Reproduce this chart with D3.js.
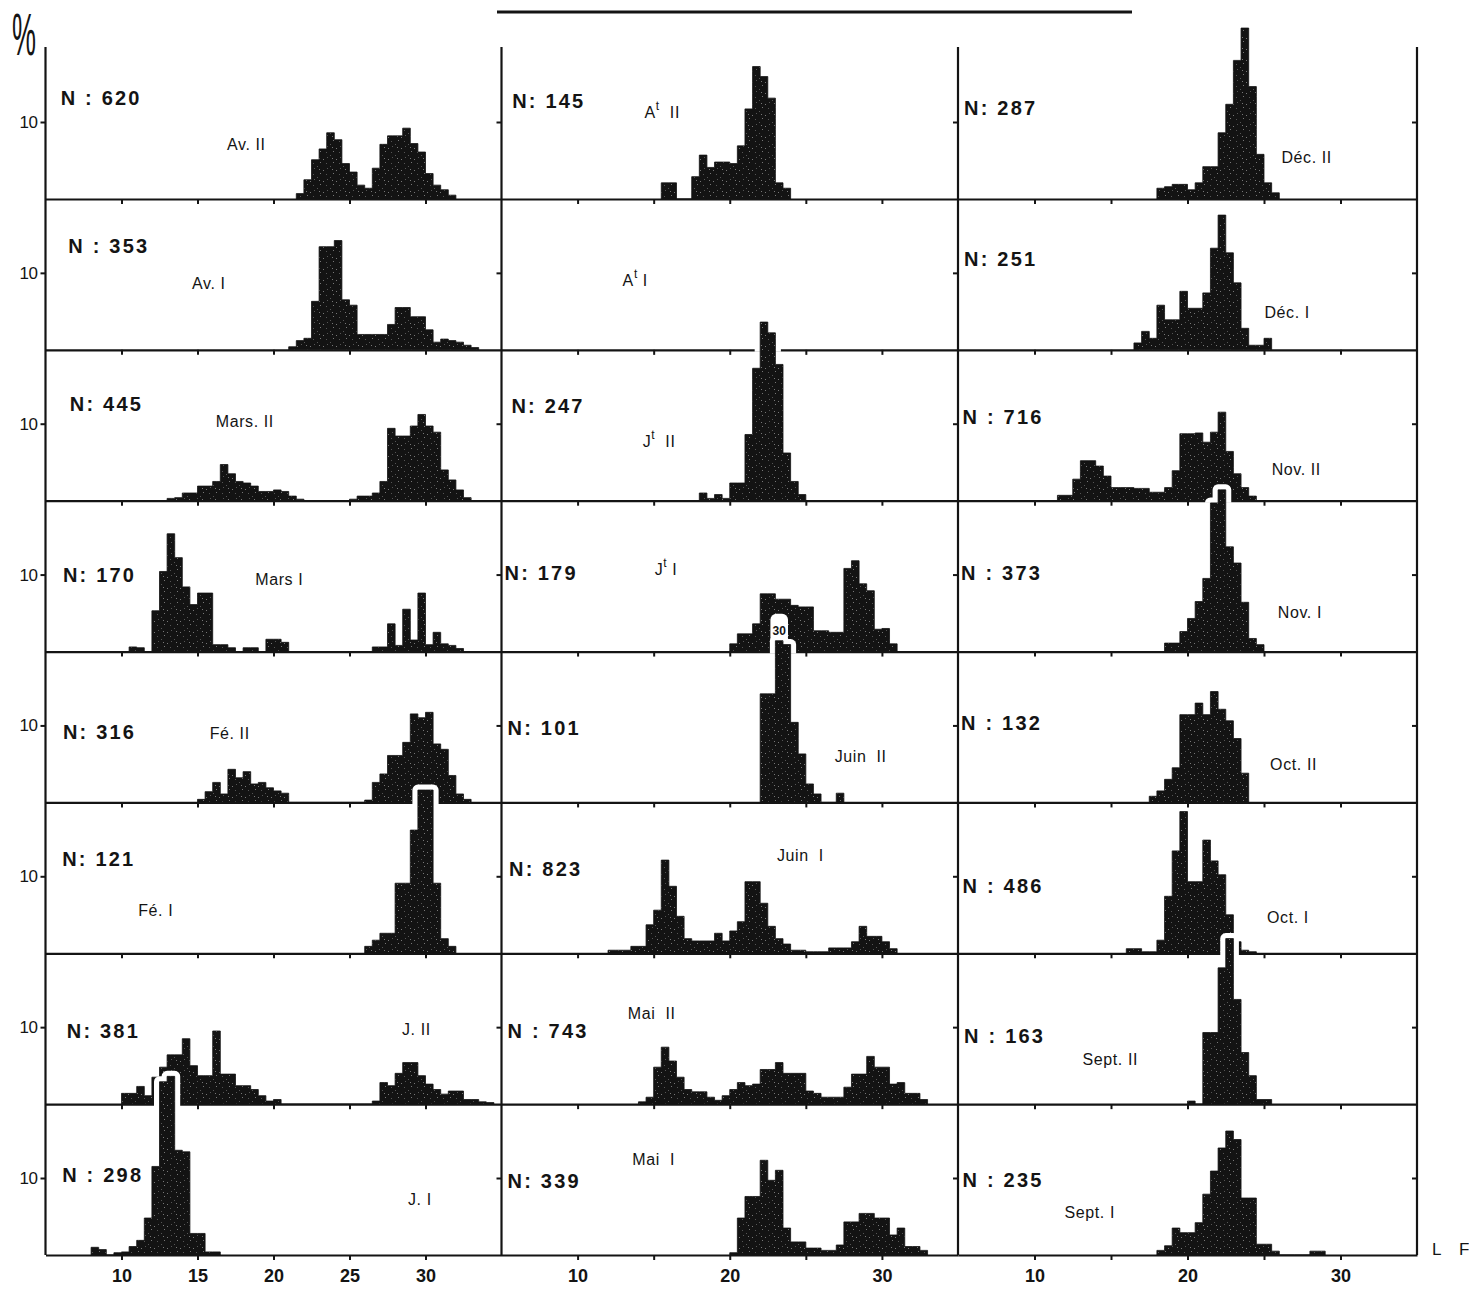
<!DOCTYPE html>
<html><head><meta charset="utf-8">
<script src="https://cdn.jsdelivr.net/npm/d3@7"></script>
<style>
html,body{margin:0;padding:0;background:#fff;}
svg{display:block;}
text{font-family:"Liberation Sans", Arial, Helvetica, sans-serif; fill:#141414;}
</style></head><body>
<svg id="c" width="1469" height="1289"></svg>
<script>
// ================= DATA =================
// length classes of 0.5 (L F), percentages per class
const binWidth = 0.5;
const lengthTicks = [10, 15, 20, 25, 30];
const labelledTicks = [[10, 15, 20, 25, 30], [10, 20, 30], [10, 20, 30]];
const yTickValues = [10];

// ---- column 1 : Janvier - Avril ----
const avII   = {start: 21.5, pct: [0.7, 2.5, 5.1, 6.5, 8.6, 7.7, 4.6, 3.5, 1.8, 1.4, 4.0, 7.1, 8.2, 8.2, 9.2, 7.2, 6.1, 3.3, 1.8, 1.2, 0.5]};
const avI    = {start: 21, pct: [0.4, 1.2, 1.5, 6.3, 13.4, 13.4, 14.2, 6.5, 5.8, 2.0, 2.0, 2.0, 2.0, 3.3, 5.5, 5.5, 4.3, 4.3, 2.6, 1.0, 1.4, 1.2, 1.0, 0.6, 0.3]};
const marsII = {start: 13, pct: [0.3, 0.4, 1.0, 1.0, 1.9, 1.9, 2.5, 4.7, 3.5, 2.5, 2.3, 1.9, 1.2, 1.2, 1.4, 1.2, 0.6, 0.2, 0, 0, 0, 0, 0, 0, 0.2, 0.6, 0.6, 1.0, 2.5, 9.4, 8.4, 8.4, 9.7, 11.2, 9.7, 8.9, 4.0, 2.7, 1.4, 0.4]};
const marsI  = {start: 10.5, pct: [0.6, 0.5, 0, 5.3, 10.4, 15.3, 12.2, 8.4, 6.1, 7.6, 7.6, 0.9, 0.9, 0.5, 0, 0.5, 0.5, 0, 1.6, 1.6, 1.2, 0, 0, 0, 0, 0, 0, 0, 0, 0, 0, 0, 0.6, 0.6, 3.6, 0.8, 5.5, 1.5, 7.6, 0.9, 2.5, 1.0, 0.8, 0.4]};
const feII   = {start: 15, pct: [0.4, 1.4, 2.6, 1.1, 4.3, 3.2, 4.0, 2.4, 2.6, 1.9, 1.5, 1.2, 0, 0, 0, 0, 0, 0, 0, 0, 0, 0, 0.3, 2.6, 3.7, 6.1, 6.1, 7.8, 11.5, 11.0, 11.7, 7.6, 6.9, 3.5, 1.1, 0.4]};
const feI    = {start: 26, pct: [0.9, 1.7, 2.6, 2.6, 9.1, 9.1, 16.0, 21.2, 21.2, 9.1, 1.9, 0.9]};
const jII    = {start: 10, pct: [1.4, 1.4, 2.3, 1.1, 3.5, 4.8, 6.4, 6.4, 8.5, 5.0, 3.7, 3.7, 9.5, 3.9, 3.9, 2.4, 2.4, 1.9, 1.1, 0.4, 0.6, 0, 0, 0, 0, 0, 0, 0, 0, 0, 0, 0, 0, 0.4, 2.8, 2.4, 4.0, 5.4, 5.4, 3.7, 2.6, 1.9, 1.3, 1.7, 1.7, 0.6, 0.6, 0.3, 0.2]};
const jI     = {start: 8, pct: [1.0, 0.7, 0, 0.3, 0.4, 1.1, 1.9, 4.8, 11.5, 22.5, 23.2, 13.6, 13.4, 2.8, 2.8, 0.4, 0.4]};

// ---- column 2 : Mai - Août ----
const atII   = {start: 15.5, pct: [2.1, 2.1, 0, 0, 2.9, 5.7, 4.1, 4.8, 4.8, 4.6, 6.9, 11.7, 17.2, 15.9, 13.1, 2.1, 1.4]};
const atI    = null; // no sample
const jtII   = {start: 18, pct: [1.0, 0.3, 0.8, 0.3, 2.3, 2.3, 8.6, 17.2, 23.2, 21.8, 17.7, 6.2, 2.5, 0.8]};
const jtI    = {start: 20, pct: [1.0, 2.3, 2.3, 3.6, 7.5, 7.5, 6.8, 6.8, 6.0, 5.8, 5.8, 2.7, 2.7, 2.5, 2.5, 10.8, 11.8, 8.8, 7.9, 2.9, 3.0, 1.0]};
const juinII = {start: 22, pct: [14.1, 14.1, 30, 20.5, 10.4, 6.3, 2.4, 1.1, 0, 0, 1.2]};
const juinI  = {start: 12, pct: [0.4, 0.4, 0.4, 0.9, 0.9, 3.7, 5.6, 12.1, 8.7, 4.8, 1.9, 1.6, 1.6, 1.6, 2.6, 1.6, 2.9, 4.1, 9.3, 9.3, 6.5, 3.5, 1.9, 1.2, 0.4, 0.4, 0.2, 0.2, 0.2, 0.7, 0.7, 0.7, 1.5, 3.5, 2.2, 2.2, 1.5, 0.6]};
const maiII  = {start: 14, pct: [0.3, 0.9, 4.8, 7.4, 5.6, 3.5, 1.9, 1.6, 1.6, 0.9, 0.5, 1.1, 1.9, 2.8, 2.4, 2.6, 4.5, 4.5, 5.4, 4.0, 4.0, 4.0, 1.7, 1.4, 0.9, 0.9, 0.9, 2.2, 3.9, 3.9, 6.2, 4.8, 4.8, 2.6, 2.8, 1.4, 1.4, 0.6]};
const maiI   = {start: 20, pct: [0.3, 4.8, 7.6, 7.6, 12.3, 9.7, 11.0, 3.5, 1.7, 1.7, 0.9, 0.9, 0.6, 0.6, 1.3, 4.3, 4.3, 5.4, 5.4, 4.8, 4.8, 2.6, 3.5, 1.1, 1.1, 0.6]};

// ---- column 3 : Septembre - Décembre ----
const decII  = {start: 18, pct: [1.4, 1.6, 1.9, 1.9, 1.2, 2.1, 4.2, 4.2, 8.6, 12.3, 18.0, 22.2, 14.6, 5.8, 2.1, 0.8]};
const decI   = {start: 16.5, pct: [0.9, 2.4, 1.5, 5.8, 3.9, 3.9, 7.6, 5.4, 5.4, 7.4, 13.2, 17.5, 12.6, 8.7, 2.8, 0.6, 0.6, 1.5]};
const novII  = {start: 11.5, pct: [0.7, 0.7, 2.8, 5.2, 5.2, 4.5, 3.2, 1.7, 1.7, 1.7, 1.6, 1.6, 1.1, 1.1, 1.7, 3.9, 8.7, 8.7, 8.8, 7.6, 8.9, 11.5, 6.4, 3.5, 1.7, 0.6]};
const novI   = {start: 18.5, pct: [1.1, 1.1, 2.6, 4.3, 6.5, 9.5, 19.3, 21.0, 13.6, 11.5, 6.4, 1.7, 0.9]};
const octII  = {start: 17.5, pct: [0.8, 1.5, 3.0, 4.5, 11.4, 11.4, 12.9, 11.4, 14.4, 12.1, 10.6, 8.3, 3.8]};
const octI   = {start: 16, pct: [0.6, 0.6, 0.2, 0.2, 1.7, 7.4, 13.3, 18.4, 9.3, 9.3, 14.7, 12.0, 10.2, 5.0, 1.5, 0.4, 0.2]};
const septII = {start: 20, pct: [0.4, 0, 9.3, 9.3, 17.7, 21.5, 13.6, 6.7, 3.7, 0.6, 0.6]};
const septI  = {start: 18, pct: [0.6, 1.2, 3.5, 2.9, 2.9, 4.2, 7.9, 10.9, 13.9, 16.1, 15.0, 7.4, 7.4, 1.4, 1.4, 0.5, 0, 0, 0, 0, 0.5, 0.5]};

const col1Data = [avII, avI, marsII, marsI, feII, feI, jII, jI];
const col2Data = [atII, atI, jtII, jtI, juinII, juinI, maiII, maiI];
const col3Data = [decII, decI, novII, novI, octII, octI, septII, septI];

const col1Labels = ["Av. II", "Av. I", "Mars. II", "Mars I", "Fé. II", "Fé. I", "J. II", "J. I"];
const col2Labels = ["A^t  II", "A^t I", "J^t  II", "J^t I", "Juin  II", "Juin  I", "Mai  II", "Mai  I"];
const col3Labels = ["Déc. II", "Déc. I", "Nov. II", "Nov. I", "Oct. II", "Oct. I", "Sept. II", "Sept. I"];

const col1N = [620, 353, 445, 170, 316, 121, 381, 298];
const col2N = [145, null, 247, 179, 101, 823, 743, 339];
const col3N = [287, 251, 716, 373, 132, 486, 163, 235];

// bars taller than the panel are cut and annotated with their value
const displayCap = {"Juin  II": 21};

// ================= LAYOUT (label anchors in data units: [length, %]) =================
const col1Sep = [" : ", " : ", ": ", ": ", ": ", ": ", ": ", " : "];
const col2Sep = [": ", null, ": ", ": ", ": ", ": ", " : ", ": "];
const col3Sep = [": ", ": ", " : ", " : ", " : ", " : ", " : ", " : "];
const col1NPos = [[6.0,12.2],[6.5,12.6],[6.6,11.6],[6.15,9.0],[6.15,8.2],[6.1,11.3],[6.4,8.6],[6.1,9.5]];
const col2NPos = [[5.7,11.8],null,[5.65,11.4],[5.2,9.35],[5.4,8.8],[5.5,10.1],[5.4,8.6],[5.4,8.7]];
const col3NPos = [[5.4,10.9],[5.4,10.9],[5.3,9.9],[5.2,9.35],[5.2,9.35],[5.3,7.8],[5.4,8.0],[5.3,8.8]];
const col1LabelPos = [[16.94,6.4],[14.64,7.9],[16.2,9.6],[18.8,8.7],[15.8,8.2],[11.1,4.8],[28.45,9.0],[28.85,6.5]];
const col2LabelPos = [[14.4,10.5],[12.96,8.3],[14.28,7.0],[15.07,10.0],[26.9,5.2],[23.1,12.0],[13.3,11.0],[13.6,11.7]];
const col3LabelPos = [[26.14,4.7],[25.03,4.2],[25.5,3.4],[25.9,4.4],[25.4,4.2],[25.2,3.9],[13.14,5.1],[11.96,4.8]];

const columns = [
  {data: col1Data, labels: col1Labels, n: col1N, sep: col1Sep, nPos: col1NPos, lPos: col1LabelPos},
  {data: col2Data, labels: col2Labels, n: col2N, sep: col2Sep, nPos: col2NPos, lPos: col2LabelPos},
  {data: col3Data, labels: col3Labels, n: col3N, sep: col3Sep, nPos: col3NPos, lPos: col3LabelPos}
];

// ================= DRAW =================
const W = 1469, H = 1289;
const svg = d3.select("#c");
const ink = "#141414";
const colRanges = [[45.5, 501.5], [501.5, 958], [958, 1417]];
const xs = colRanges.map(r => d3.scaleLinear().domain([5, 35]).range(r));
const rowBase = d3.scaleLinear().domain([0, 7]).range([199, 1255]);
const frameTop = 47;
const yOf = r => d3.scaleLinear().domain([0, 10]).range([rowBase(r), rowBase(r) - 77]);

const defs = svg.append("defs");
const pat = defs.append("pattern").attr("id", "speck").attr("patternUnits", "userSpaceOnUse")
  .attr("width", 13).attr("height", 11);
pat.append("rect").attr("width", 13).attr("height", 11).attr("fill", "#131313");
[[2,3],[8,8],[5,1],[11,5],[1,9],[7,4]].forEach(([cx, cy], i) =>
  pat.append("rect").attr("x", cx).attr("y", cy).attr("width", 1).attr("height", 1)
     .attr("fill", i % 2 ? "#777" : "#555"));
for (let r = 1; r < 8; r++) {
  defs.append("clipPath").attr("id", "above" + r)
    .append("rect").attr("x", 0).attr("y", 0).attr("width", W).attr("height", rowBase(r - 1) + 2);
}

// title underline (text above is cut off in the source)
svg.append("line").attr("x1", 497).attr("x2", 1132).attr("y1", 12).attr("y2", 12)
  .attr("stroke", ink).attr("stroke-width", 3);

const layerHist = svg.append("g");

function areaFor(c, r, d, cap) {
  const x = xs[c], y = yOf(r);
  const pts = d.pct.map((v, i) => ({L: d.start + i * binWidth, v: Math.min(v, cap)}));
  pts.push({L: d.start + d.pct.length * binWidth, v: 0});
  return d3.area().curve(d3.curveStepAfter).x(p => x(p.L)).y0(y(0)).y1(p => y(p.v))(pts);
}

for (let r = 0; r < 8; r++) {
  // white halo where bars rise into the panel above
  columns.forEach((col, c) => {
    const d = col.data[r]; if (!d || r === 0) return;
    const cap = displayCap[col.labels[r]] ?? Infinity;
    const g = layerHist.append("g").attr("clip-path", `url(#above${r})`);
    g.append("path").attr("d", areaFor(c, r, d, cap))
      .attr("fill", "#fff").attr("stroke", "#fff").attr("stroke-width", 11).attr("stroke-linejoin", "round");
    d.pct.forEach((v, i) => {
      if (v <= cap) return;
      const x = xs[c], y = yOf(r);
      layerHist.append("rect").attr("x", x(d.start + i * binWidth) - 5).attr("width", x(d.start + (i + 1) * binWidth) - x(d.start + i * binWidth) + 10)
        .attr("y", y(cap) - 27).attr("height", 29).attr("rx", 6).attr("fill", "#fff");
    });
  });
  // bars
  columns.forEach((col, c) => {
    const d = col.data[r]; if (!d) return;
    const cap = displayCap[col.labels[r]] ?? Infinity;
    layerHist.append("path").attr("d", areaFor(c, r, d, cap)).attr("fill", "url(#speck)")
      .attr("stroke", "#131313").attr("stroke-width", 0.8);
    d.pct.forEach((v, i) => {
      if (v <= cap) return;
      const x = xs[c], y = yOf(r);
      layerHist.append("text").attr("x", (x(d.start + i * binWidth) + x(d.start + (i + 1) * binWidth)) / 2)
        .attr("y", y(cap) - 6).attr("text-anchor", "middle").attr("font-size", 12).attr("font-weight", "bold")
        .text(d3.format("d")(v));
    });
  });
  // baseline with length ticks
  xs.forEach((x, c) => {
    const ax = d3.axisBottom(x).tickValues(lengthTicks).tickSize(5).tickSizeOuter(0).tickPadding(9)
      .tickFormat(t => (r === 7 && labelledTicks[c].includes(t)) ? d3.format("d")(t) : "");
    const g = layerHist.append("g").attr("transform", `translate(0,${rowBase(r)})`).call(ax);
    g.select(".domain").attr("stroke", ink).attr("stroke-width", 2.2);
    g.selectAll(".tick line").attr("stroke", ink).attr("stroke-width", 2);
    g.selectAll(".tick text").attr("font-size", 18).attr("font-weight", "bold")
      .attr("font-family", '"Liberation Sans", Arial, sans-serif').attr("fill", ink);
  });
}

// frame verticals with the 10 % ticks
const frameX = [colRanges[0][0], colRanges[1][0], colRanges[2][0], colRanges[2][1]];
frameX.forEach((fx, k) => {
  svg.append("line").attr("x1", fx).attr("x2", fx).attr("y1", frameTop).attr("y2", rowBase(7))
    .attr("stroke", ink).attr("stroke-width", 2.2);
  for (let r = 0; r < 8; r++) {
    const ax = d3.axisLeft(yOf(r)).tickValues(yTickValues).tickSize(5).tickPadding(3)
      .tickFormat(k === 0 ? d3.format("d") : "");
    const g = svg.append("g").attr("transform", `translate(${fx},0)`).call(ax);
    g.select(".domain").remove();
    g.selectAll(".tick line").attr("stroke", ink).attr("stroke-width", 2);
    g.selectAll(".tick text").attr("font-size", 17).attr("letter-spacing", -0.5)
      .attr("font-family", '"Liberation Sans", Arial, sans-serif').attr("fill", ink);
  }
});

// panel texts
columns.forEach((col, c) => {
  for (let r = 0; r < 8; r++) {
    const x = xs[c], y = yOf(r);
    if (col.n[r] != null) {
      const [lv, lp] = col.nPos[r];
      svg.append("text").attr("x", x(lv)).attr("y", y(lp)).attr("font-size", 20).attr("font-weight", "bold")
        .attr("letter-spacing", 2.2).style("white-space", "pre")
        .text("N" + col.sep[r] + col.n[r]);
    }
    const [mv, mp] = col.lPos[r];
    const t = svg.append("text").attr("x", x(mv)).attr("y", y(mp)).attr("font-size", 16)
      .attr("letter-spacing", 0.6).style("white-space", "pre");
    const parts = col.labels[r].split("^t");
    if (parts.length === 2) {
      t.append("tspan").text(parts[0]);
      t.append("tspan").attr("dy", -8).attr("font-size", 12).text("t");
      t.append("tspan").attr("dy", 8).text(parts[1]);
    } else {
      t.text(col.labels[r]);
    }
  }
});

// unit labels
svg.append("text").attr("transform", "translate(12,55) scale(0.45,1)").attr("font-size", 60).text("%");
svg.append("text").attr("x", 1432).attr("y", rowBase(7)).attr("font-size", 17).text("L");
svg.append("text").attr("x", 1459).attr("y", rowBase(7)).attr("font-size", 17).text("F");
</script>
</body></html>
